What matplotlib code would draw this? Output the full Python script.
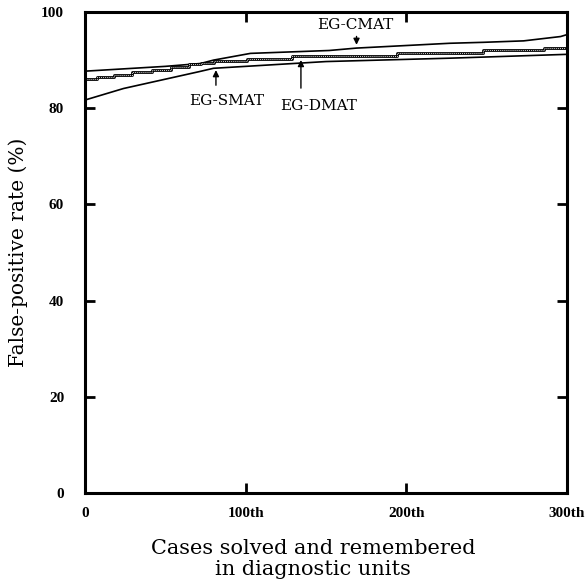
import matplotlib
matplotlib.use("Agg")
import matplotlib.pyplot as plt

# Data
cmat_x = [0, 50, 72, 80, 103, 152, 169, 227, 248, 273, 296, 300]
cmat_y = [87.7, 88.7, 89.3, 90.0, 91.4, 92.0, 92.5, 93.5, 93.7, 94.0, 94.9, 95.3]

smat_x = [0, 24, 71, 80, 150, 227, 300]
smat_y = [81.7, 84.1, 87.6, 88.3, 89.7, 90.4, 91.2]

dmat_x = [0, 7.5, 18, 29, 42, 53.5, 65, 72, 80, 101, 129, 194, 248, 286, 300]
dmat_y = [86.0, 86.4, 86.9, 87.5, 87.9, 88.6, 89.2, 89.4, 89.8, 90.2, 90.9, 91.4, 92.1, 92.6, 92.6]

xticks = [0, 100, 200, 300]
xticklabels = ["0", "100th", "200th", "300th"]
yticks = [0, 20, 40, 60, 80, 100]
yticklabels = ["0", "20", "40", "60", "80", "100"]

fig = plt.figure(figsize=(5.85, 5.86), dpi=100)
ax = fig.add_axes([0.1453, 0.1587, 0.9692 - 0.1453, 0.9795 - 0.1587])

ax.plot(cmat_x, cmat_y, color="black", lw=1.2)
ax.plot(smat_x, smat_y, color="black", lw=1.2)
ax.plot(dmat_x, dmat_y, color="black", lw=2.0, drawstyle="steps-post", solid_capstyle="butt")
ax.plot(dmat_x, dmat_y, color="#d0d0d0", lw=0.7, drawstyle="steps-post", linestyle=(0, (1, 1)))

ax.set_xlim(0, 300)
ax.set_ylim(0, 100)

ax.set_xticks(xticks)
ax.set_xticklabels(xticklabels)
ax.set_yticks(yticks)
ax.set_yticklabels(yticklabels)

for lab in ax.get_xticklabels() + ax.get_yticklabels():
    lab.set_fontfamily("Liberation Serif")
    lab.set_fontweight("bold")
    lab.set_fontsize(11)

ax.tick_params(direction="in", length=7, width=2, top=True, right=True)
ax.tick_params(axis="x", pad=10)
ax.tick_params(axis="y", pad=15)
for s in ax.spines.values():
    s.set_linewidth(2.2)

serif = "DejaVu Serif"
ax.set_xlabel("Cases solved and remembered\nin diagnostic units", fontsize=15,
              family=serif, linespacing=1.15)
ax.xaxis.set_label_coords(0.473, -0.096)
ax.set_ylabel("False-positive rate (%)", fontsize=14.5, family=serif)
ax.yaxis.set_label_coords(-0.118, 0.5)

arrowprops = dict(arrowstyle="-|>", color="black", lw=1.0, mutation_scale=9)
ax.annotate("", xy=(169, 92.6), xytext=(169, 95.5), arrowprops=arrowprops)
ax.text(168, 97.4, "EG-CMAT", ha="center", va="center", fontsize=11, family=serif)

ax.annotate("", xy=(81.5, 88.5), xytext=(81.5, 84.2), arrowprops=arrowprops)
ax.text(88, 81.6, "EG-SMAT", ha="center", va="center", fontsize=11, family=serif)

ax.annotate("", xy=(134.4, 90.6), xytext=(134.4, 83.6), arrowprops=arrowprops)
ax.text(145.5, 80.4, "EG-DMAT", ha="center", va="center", fontsize=11, family=serif)

fig.savefig("out.png", dpi=100)
